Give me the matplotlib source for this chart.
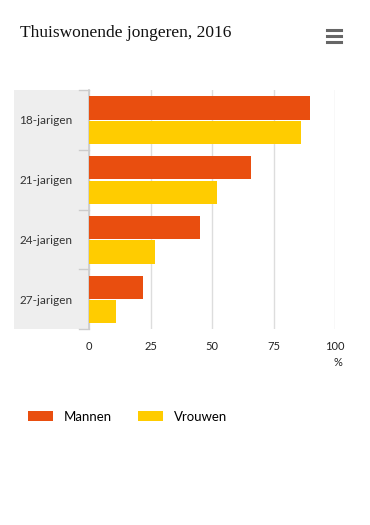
import numpy as np
import matplotlib
matplotlib.use('Agg')
import matplotlib.pyplot as plt
import matplotlib.transforms as mtransforms
from matplotlib.patches import Rectangle
from matplotlib.lines import Line2D

# data
categories = ['18-jarigen', '21-jarigen', '24-jarigen', '27-jarigen']
mannen = [90, 66, 45, 22]
vrouwen = [86, 52, 27, 11]
xticks = [0, 25, 50, 75, 100]

orange = '#E94E0F'
yellow = '#FFCC00'

W, H = 370, 525
fig = plt.figure(figsize=(W / 100, H / 100), dpi=100)

def fx(px):
    return px / W

def fy(py):
    return 1 - py / H

# grey band behind the category labels
band = Rectangle((fx(14), fy(329)), fx(89) - fx(14), fy(90) - fy(329),
                 transform=fig.transFigure, facecolor='#EEEEEE',
                 edgecolor='none', zorder=-5)
fig.add_artist(band)

ax = fig.add_axes([fx(89), fy(329), fx(335) - fx(89), fy(90) - fy(329)])
ax.set_facecolor('none')
ax.set_zorder(1)

y = np.arange(len(categories))
b1 = ax.barh(y - 0.2, mannen, height=0.39, color=orange, label='Mannen', zorder=3)
b2 = ax.barh(y + 0.21, vrouwen, height=0.39, color=yellow, label='Vrouwen', zorder=3)

ax.set_xlim(0, 100)
ax.set_ylim(3.5, -0.5)
ax.set_xticks(xticks)
ax.set_xticklabels([str(t) for t in xticks], fontsize=8, family='Lato', color='#222222')
ax.tick_params(axis='x', length=0, pad=9)
ax.grid(axis='x', color='#DDDDDD', linewidth=1, zorder=0)

ax.set_yticks(y)
ax.set_yticklabels(categories, fontsize=8.5, family='Lato', color='#333333')
ax.tick_params(axis='y', which='major', length=0, pad=12)

# category separator ticks left of the axis
trans = mtransforms.blended_transform_factory(fig.transFigure, ax.transData)
for b in np.arange(-0.5, 4.0, 1.0):
    ax.add_line(Line2D([fx(79), fx(89)], [b, b], color='#CCCCCC', linewidth=1,
                       transform=trans, clip_on=False))

for s in ['top', 'right', 'bottom']:
    ax.spines[s].set_visible(False)
ax.spines['left'].set_color('#CCCCCC')
ax.spines['left'].set_linewidth(1.2)

fig.text(fx(338), fy(363), '%', fontsize=8, family='Lato', color='#222222',
         ha='center', va='center')

fig.text(fx(20), fy(33), 'Thuiswonende jongeren, 2016', fontsize=12.5,
         family='Liberation Serif', color='#111111', ha='left', va='center')

# menu icon
for py in [30, 36, 42]:
    fig.add_artist(Line2D([fx(327), fx(341)], [fy(py), fy(py)], color='#666666',
                          linewidth=2.2, transform=fig.transFigure))

# legend
fig.legend(handles=[b1, b2], labels=['Mannen', 'Vrouwen'],
           loc='center left', bbox_to_anchor=(fx(16), fy(417)), ncol=2, frameon=False,
           handlelength=1.9, handleheight=0.8, handletextpad=0.8, columnspacing=2.0,
           prop={'family': 'Lato', 'size': 9.5})

fig.savefig('out.png', dpi=100)
